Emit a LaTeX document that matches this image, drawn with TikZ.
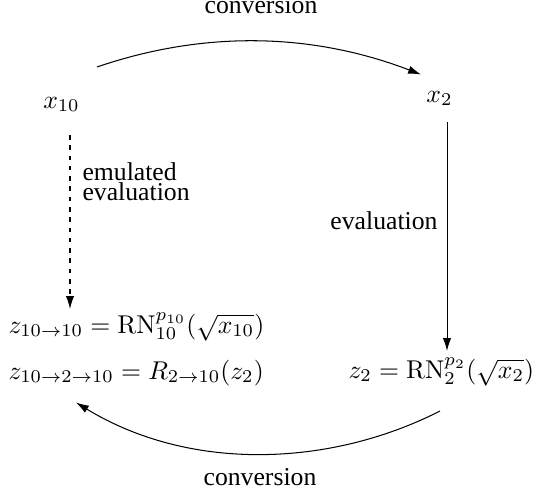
\documentclass[tikz,border=0pt]{standalone}
\usepackage[no-math]{fontspec}
\setmainfont{Liberation Serif}
\usetikzlibrary{arrows.meta}
\begin{document}
\begin{tikzpicture}[x=0.389pt,y=-0.389pt,
  lbl/.style={inner sep=0pt,anchor=base},
  conn/.style={-{Latex[length=5pt,width=3.2pt]},line width=0.4pt},
  dashconn/.style={conn,dash pattern=on 1.8pt off 2.2pt}]
\useasboundingbox (0,0) rectangle (538,500);
% nodes
\node[lbl] (convtop) at (261,13) {conversion};
\node[lbl] (x10) at (61.5,108) {$x_{10}$};
\node[lbl] (x2) at (439.5,102) {$x_2$};
\node[lbl,anchor=base west] (emu) at (82,180) {emulated};
\node[lbl,anchor=base west] (emu2) at (82,200) {evaluation};
\node[lbl,anchor=base east] (eval) at (438,229) {evaluation};
\node[lbl,anchor=base west] (z1010) at (8,333) {$z_{10\to10} = \mathrm{RN}_{10}^{p_{10}}(\sqrt{x_{10}})$};
\node[lbl,anchor=base west] (z10210) at (8,379) {$z_{10\to2\to10} = R_{2\to10}(z_2)$};
\node[lbl,anchor=base west] (z2) at (348,378) {$z_2 = \mathrm{RN}_2^{p_2}(\sqrt{x_2})$};
\node[lbl] (convbot) at (260,485) {conversion};
% connector ends
\coordinate (ta) at (97,67);
\coordinate (tb) at (421,74.5);
\coordinate (da) at (70,135);
\coordinate (db) at (70,309);
\coordinate (ra) at (447,122);
\coordinate (rb) at (447,351);
\coordinate (ba) at (440,411);
\coordinate (bb) at (76,402.5);
% connectors
\draw[conn] (ta) .. controls (205,30) and (313,33) .. (tb);
\draw[dashconn] (da) -- (db);
\draw[conn] (ra) -- (rb);
\draw[conn] (ba) .. controls (330,467) and (190,472) .. (bb);
\end{tikzpicture}
\end{document}
